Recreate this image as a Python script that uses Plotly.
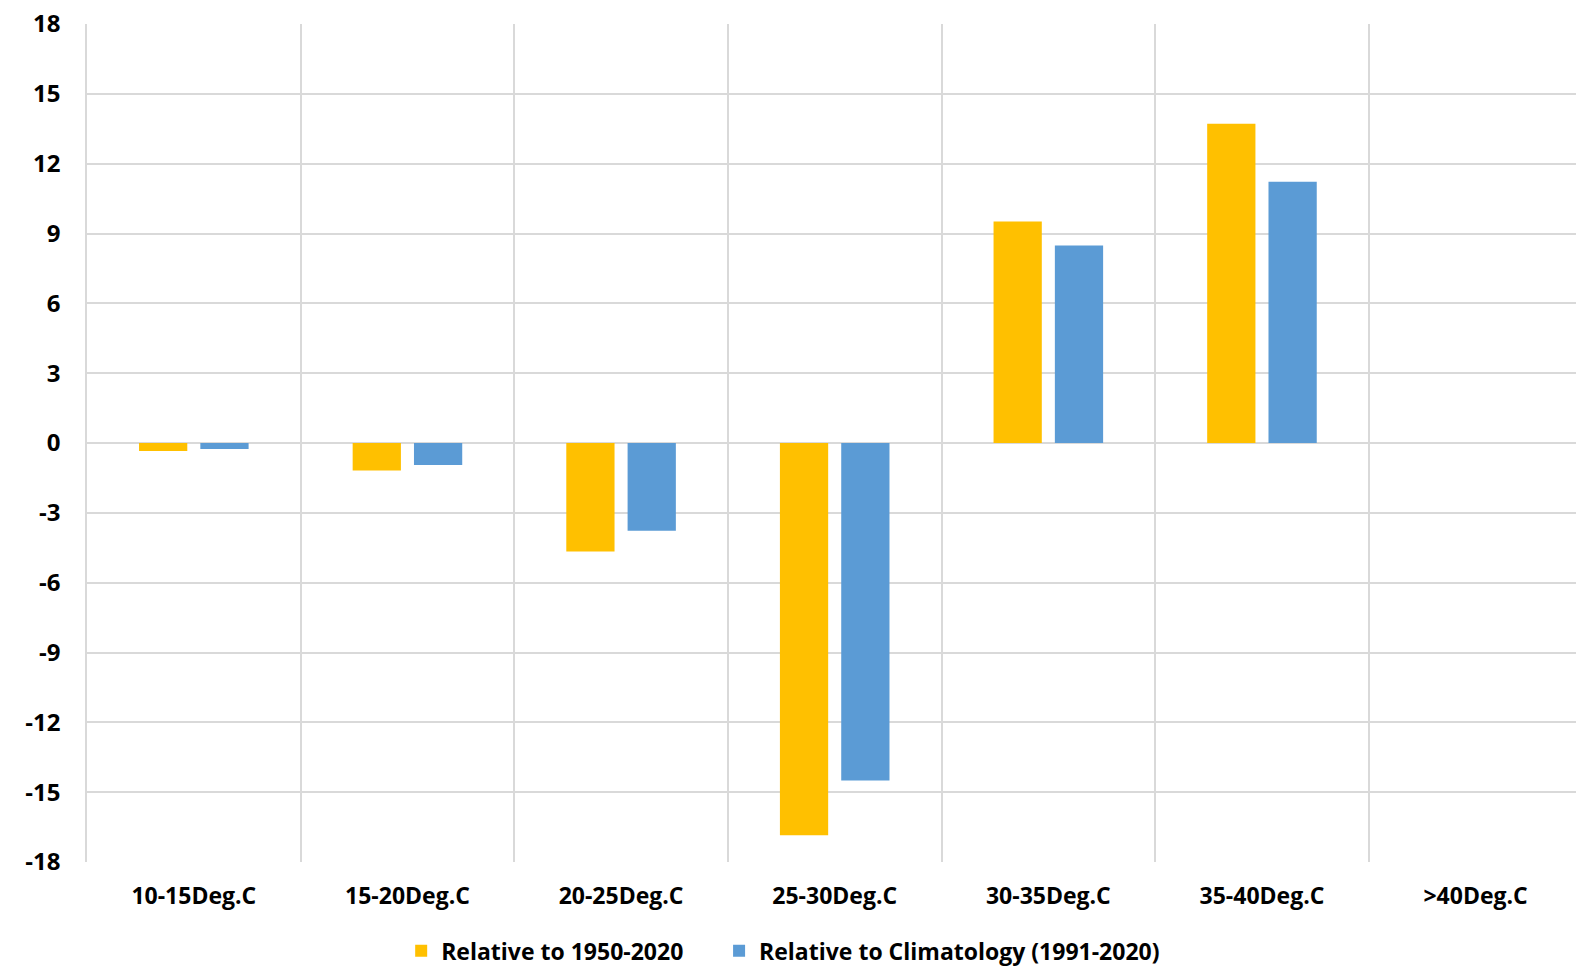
import plotly.graph_objects as go

categories = ["10-15Deg.C", "15-20Deg.C", "20-25Deg.C", "25-30Deg.C",
              "30-35Deg.C", "35-40Deg.C", ">40Deg.C"]
rel_1950_2020 = [-0.34, -1.18, -4.66, -16.85, 9.52, 13.72, 0]
rel_climatology = [-0.26, -0.95, -3.77, -14.5, 8.48, 11.22, 0]
y_ticks = list(range(-18, 19, 3))
y_tick_text = [str(v) for v in y_ticks]  # plain hyphen for negatives

FONT = "Open Sans, sans-serif"
GRID = "#d9d9d9"

fig = go.Figure()
fig.add_trace(go.Bar(x=categories, y=rel_1950_2020, name="Relative to 1950-2020",
                     marker=dict(color="#FFC000", line=dict(width=0)),
                     legend="legend"))
fig.add_trace(go.Bar(x=categories, y=rel_climatology,
                     name="Relative to Climatology (1991-2020)",
                     marker=dict(color="#5B9BD5", line=dict(width=0)),
                     legend="legend2"))

legend_font = dict(family=FONT, size=23, color="black", weight="bold")
fig.update_layout(
    width=1576, height=966,
    margin=dict(l=87, r=0, t=24, b=104, autoexpand=False),
    paper_bgcolor="white", plot_bgcolor="white",
    barmode="group", bargap=0.426, bargroupgap=0.213,
    font=dict(family=FONT, size=22, color="black"),
    legend=dict(orientation="h", x=0.211, xanchor="left", y=-0.106,
                yanchor="middle", font=legend_font),
    legend2=dict(orientation="h", x=0.4245, xanchor="left", y=-0.106,
                 yanchor="middle", font=legend_font),
    showlegend=True,
)
fig.update_xaxes(
    type="category", range=[-0.5, 6.47], tickson="boundaries",
    showgrid=True, gridcolor=GRID, gridwidth=1.5, ticks="", showline=False,
    tickfont=dict(family=FONT, size=23, color="black", weight="bold"),
    ticklabelstandoff=18,
)
fig.update_yaxes(
    range=[-18, 18], tickvals=y_ticks, ticktext=y_tick_text,
    showgrid=True, gridcolor=GRID, gridwidth=1.5,
    zeroline=True, zerolinecolor=GRID, zerolinewidth=1.5,
    showline=True, linecolor=GRID, linewidth=1.5, ticks="",
    tickfont=dict(family=FONT, size=24, color="black", weight="bold"),
    ticklabelstandoff=20,
)

fig.write_html("out.html")
